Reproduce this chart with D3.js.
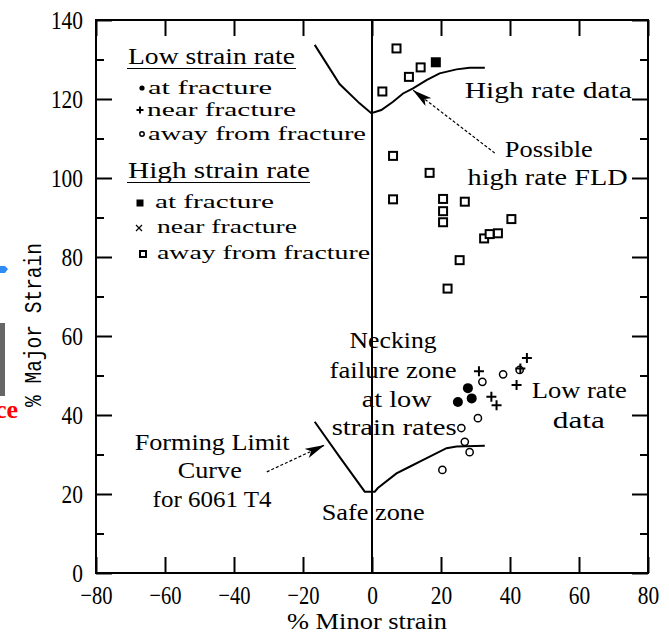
<!DOCTYPE html>
<html>
<head>
<meta charset="utf-8">
<script src="https://cdn.jsdelivr.net/npm/d3@7/dist/d3.min.js"></script>
<style>
	body { margin: 0; background: #fff; }
	svg { display: block; }
</style>
</head>
<body>
<div id="fld_chart"></div>
<script>
// strains (%), [minor, major]
var highAway = [[7.1, 132.8], [14.1, 128.0], [10.7, 125.6], [3.0, 121.9], [6.1, 105.6], [16.7, 101.3],
	[6.1, 94.6], [20.6, 94.7], [26.9, 94.0], [20.6, 91.6], [20.6, 88.8], [40.4, 89.6],
	[32.5, 84.7], [34.1, 85.8], [36.5, 86.0], [25.4, 79.2], [21.9, 72.0]];
var highFracture = [[18.5, 129.3]];
var lowFracture = [[27.8, 46.8], [28.9, 44.2], [24.9, 43.3]];
var lowNear = [[31.0, 51.1], [44.9, 54.4], [43.0, 51.8], [41.9, 47.6], [34.6, 44.6], [36.1, 42.5]];
var lowAway = [[32.0, 48.4], [38.0, 50.3], [42.8, 51.4], [30.7, 39.2], [25.9, 36.7], [26.9, 33.2],
	[28.3, 30.6], [20.4, 26.1]];

// forming limit curve for 6061 T4 and the possible high rate FLD
var flcLow = [[-16.6, 38.3], [-9.4, 29.4], [-2.1, 20.6], [0.8, 20.6], [1.7, 21.5], [7.1, 25.2],
	[10.9, 26.9], [14.7, 28.6], [21.6, 31.6], [24.5, 32.0], [32.7, 32.2]];
var flcHigh = [[-16.6, 133.7], [-9.4, 123.8], [-3.6, 118.9], [-0.2, 116.4], [2.7, 117.2], [6.1, 119.3],
	[9.0, 121.4], [11.9, 122.7], [15.8, 124.8], [19.6, 126.5], [24.5, 127.5], [28.3, 127.9], [32.7, 127.9]];

var xTicks = [-80, -60, -40, -20, 0, 20, 40, 60, 80];
var yTicks = [0, 20, 40, 60, 80, 100, 120, 140];
var yMinorTicks = [10, 30, 50, 70, 90, 110, 130];

var xTitle = "% Minor strain";
var yTitle = "% Major Strain";
var legendLowTitle = "Low strain rate";
var legendLow = ["at fracture", "near fracture", "away from fracture"];
var legendHighTitle = "High strain rate";
var legendHigh = ["at fracture", "near fracture", "away from fracture"];

// annotation text, anchored at [minor, major]
var notes = [
	{text: "High rate data", at: [26.9, 120.3], len: 167},
	{text: "Possible", at: [38.5, 105.3], len: 88},
	{text: "high rate FLD", at: [27.7, 98.2], len: 160},
	{text: "Necking", at: [-6.5, 57.0], len: 87},
	{text: "failure zone", at: [-12.3, 49.4], len: 127},
	{text: "at low", at: [-3.0, 42.0], len: 70},
	{text: "strain rates", at: [-11.7, 34.9], len: 125},
	{text: "Safe zone", at: [-14.6, 13.4], len: 103},
	{text: "Low rate", at: [46.3, 44.3], len: 95},
	{text: "data", at: [52.4, 36.7], len: 52},
	{text: "Forming Limit", at: [-68.8, 31.1], len: 155},
	{text: "Curve", at: [-56.3, 24.1], len: 64},
	{text: "for 6061 T4", at: [-63.6, 16.7], len: 119}
];
var arrows = [
	{from: [35.6, 106.3], to: [11.8, 122.3]},
	{from: [-30.5, 25.6], to: [-13.7, 32.4]}
];

function FldChart() {

	var chart_width = 669,
			chart_height = 635;

	var margin = {top: 20, right: 21, bottom: 62, left: 96},
			width = chart_width - margin.left - margin.right,
			height = chart_height - margin.top - margin.bottom;

	var serif = "Liberation Serif";

	function addText(g, str, x, y, o) {
		var t = g.append("text")
			.attr("transform", "translate(" + x + "," + y + ")" + (o.rotate ? " rotate(" + o.rotate + ")" : ""))
			.attr("font-family", o.family || serif)
			.attr("font-size", o.size || 22)
			.attr("font-weight", o.weight || "normal")
			.attr("text-anchor", o.anchor || "start")
			.attr("fill", o.fill || "#000")
			.text(str);
		if (o.len) t.attr("textLength", o.len).attr("lengthAdjust", "spacingAndGlyphs");
		return t;
	}

	// small glyph markers, drawn centred on 0,0
	function marker(g, kind, s) {
		if (kind == "dot") g.append("circle").attr("r", s).attr("fill", "#000");
		if (kind == "ring") g.append("circle").attr("r", s).attr("fill", "#fff").attr("stroke", "#000").attr("stroke-width", 1.5);
		if (kind == "box") g.append("rect").attr("x", -s / 2).attr("y", -s / 2).attr("width", s).attr("height", s)
			.attr("fill", "#fff").attr("stroke", "#000").attr("stroke-width", 2);
		if (kind == "block") g.append("rect").attr("x", -s / 2).attr("y", -s / 2).attr("width", s).attr("height", s).attr("fill", "#000");
		if (kind == "plus") g.append("path").attr("d", "M" + (-s / 2) + ",0H" + (s / 2) + "M0," + (-s / 2) + "V" + (s / 2))
			.attr("stroke", "#000").attr("stroke-width", 2);
		if (kind == "cross") g.append("path").attr("d", "M" + (-s / 2) + "," + (-s / 2) + "L" + (s / 2) + "," + (s / 2) + "M" + (s / 2) + "," + (-s / 2) + "L" + (-s / 2) + "," + (s / 2))
			.attr("stroke", "#000").attr("stroke-width", 1.2);
	}

	function my(selection) {

		var svg = selection.append("svg")
				.attr("width", chart_width)
				.attr("height", chart_height)
				.style("background", "#fff");

		// bits of the page the figure was cut out of
		svg.append("path").attr("d", "M0,266H5L8,269L5,273H0Z").attr("fill", "#2f8cf5");
		svg.append("rect").attr("x", 0).attr("y", 323).attr("width", 5).attr("height", 73).attr("fill", "#666");
		addText(svg, "ce", 18, 418, {size: 26, weight: "bold", anchor: "end", fill: "#f00"});

		var g = svg.append("g")
				.attr("transform", "translate(" + margin.left + "," + margin.top + ")");

		var x = d3.scaleLinear().domain([-80, 80]).range([0, width]);
		var y = d3.scaleLinear().domain([0, 140]).range([height, 0]);

		// ticks point inwards on all four sides
		g.append("g").attr("transform", "translate(0," + height + ")")
			.call(d3.axisBottom(x).tickValues(xTicks).tickSize(-16).tickSizeOuter(0).tickPadding(13).tickFormat(d3.format("d")));
		g.append("g")
			.call(d3.axisTop(x).tickValues(xTicks).tickSize(-16).tickSizeOuter(0).tickFormat(""));
		g.append("g")
			.call(d3.axisLeft(y).tickValues(yTicks).tickSize(-16).tickSizeOuter(0).tickPadding(13).tickFormat(d3.format("d")));
		g.append("g")
			.call(d3.axisLeft(y).tickValues(yMinorTicks).tickSize(-8).tickSizeOuter(0).tickFormat(""));
		g.append("g").attr("transform", "translate(" + width + ",0)")
			.call(d3.axisRight(y).tickValues(yTicks).tickSize(-16).tickSizeOuter(0).tickFormat(""));
		g.append("g").attr("transform", "translate(" + width + ",0)")
			.call(d3.axisRight(y).tickValues(yMinorTicks).tickSize(-8).tickSizeOuter(0).tickFormat(""));

		g.selectAll(".domain").remove();
		g.selectAll(".tick line").attr("stroke", "#000").attr("stroke-width", 2);
		g.selectAll(".tick text")
			.attr("font-family", serif)
			.attr("font-size", 26)
			.attr("fill", "#000")
			.attr("lengthAdjust", "spacingAndGlyphs")
			.attr("textLength", function(d) { return String(d).length * 10.7; });

		g.append("rect")
			.attr("width", width)
			.attr("height", height)
			.attr("fill", "none")
			.attr("stroke", "#000")
			.attr("stroke-width", 2);

		g.append("line")
			.attr("x1", x(0)).attr("x2", x(0))
			.attr("y1", 0).attr("y2", height)
			.attr("stroke", "#000")
			.attr("stroke-width", 2);

		// forming limit curves
		var line = d3.line()
			.x(function(d) { return x(d[0]); })
			.y(function(d) { return y(d[1]); });

		g.selectAll(".flc")
			.data([flcLow, flcHigh])
			.enter()
			.append("path")
				.attr("class", "flc")
				.attr("d", line)
				.attr("fill", "none")
				.attr("stroke", "#000")
				.attr("stroke-width", 2);

		// dotted leader arrows
		svg.append("defs").append("marker")
				.attr("id", "head")
				.attr("viewBox", "0 0 20 10")
				.attr("refX", 20).attr("refY", 5)
				.attr("markerWidth", 20).attr("markerHeight", 10)
				.attr("markerUnits", "userSpaceOnUse")
				.attr("orient", "auto")
			.append("path")
				.attr("d", "M0,0L20,5L0,10L5,5Z")
				.attr("fill", "#000");

		g.selectAll(".leader")
			.data(arrows)
			.enter()
			.append("line")
				.attr("class", "leader")
				.attr("x1", function(d) { return x(d.from[0]); })
				.attr("y1", function(d) { return y(d.from[1]); })
				.attr("x2", function(d) { return x(d.to[0]); })
				.attr("y2", function(d) { return y(d.to[1]); })
				.attr("stroke", "#000")
				.attr("stroke-width", 1.2)
				.attr("stroke-dasharray", "3,2")
				.attr("marker-end", "url(#head)");

		// data points
		var sets = [
			{data: highAway, kind: "box", size: 8},
			{data: highFracture, kind: "block", size: 10},
			{data: lowAway, kind: "ring", size: 3.6},
			{data: lowNear, kind: "plus", size: 10},
			{data: lowFracture, kind: "dot", size: 5}
		];
		sets.forEach(function(s) {
			g.append("g")
				.selectAll("g")
				.data(s.data)
				.enter()
				.append("g")
					.attr("transform", function(d) { return "translate(" + x(d[0]) + "," + y(d[1]) + ")"; })
					.each(function() { marker(d3.select(this), s.kind, s.size); });
		});

		// annotations
		notes.forEach(function(n) {
			addText(g, n.text, x(n.at[0]), y(n.at[1]), {size: 23, len: n.len});
		});

		// legend in the top left corner of the plot
		var legend = svg.append("g");
		var lowRows = [{y: 94, sym: "dot", s: 2.6, sx: 142, tx: 148, len: 124},
				{y: 116, sym: "plus", s: 7, sx: 140, tx: 147, len: 149},
				{y: 140, sym: "ring", s: 2.2, sx: 142, tx: 148, len: 218}];
		var highRows = [{y: 208, sym: "block", s: 7, sx: 140, tx: 155, len: 119},
				{y: 233, sym: "cross", s: 6, sx: 139, tx: 157, len: 140},
				{y: 259, sym: "box", s: 6, sx: 143, tx: 157, len: 213}];

		addText(legend, legendLowTitle, 128, 64, {size: 23, len: 167});
		legend.append("line").attr("x1", 127).attr("x2", 296).attr("y1", 68.5).attr("y2", 68.5).attr("stroke", "#000").attr("stroke-width", 1.2);
		addText(legend, legendHighTitle, 128, 178, {size: 23, len: 182});
		legend.append("line").attr("x1", 127).attr("x2", 310).attr("y1", 182.5).attr("y2", 182.5).attr("stroke", "#000").attr("stroke-width", 1.2);

		legendLow.forEach(function(label, i) {
			var r = lowRows[i];
			marker(legend.append("g").attr("transform", "translate(" + r.sx + "," + (r.y - 6) + ")"), r.sym, r.s);
			addText(legend, label, r.tx, r.y, {size: 19, len: r.len});
		});
		legendHigh.forEach(function(label, i) {
			var r = highRows[i];
			marker(legend.append("g").attr("transform", "translate(" + r.sx + "," + (r.y - 5) + ")"), r.sym, r.s);
			addText(legend, label, r.tx, r.y, {size: 19, len: r.len});
		});

		// axis titles
		addText(svg, xTitle, 367, 629, {size: 23, anchor: "middle", len: 160});
		addText(svg, yTitle, 41, 325, {size: 24, anchor: "middle", len: 164, rotate: -90, family: "Liberation Mono"});
	}

	my.width = function(value) {
		if (!arguments.length) return chart_width;
		chart_width = value;
		return my;
	};

	my.height = function(value) {
		if (!arguments.length) return chart_height;
		chart_height = value;
		return my;
	};

	return my;
}

var fld_chart = FldChart().width(669).height(635);
fld_chart(d3.select("#fld_chart"));
</script>
</body>
</html>
